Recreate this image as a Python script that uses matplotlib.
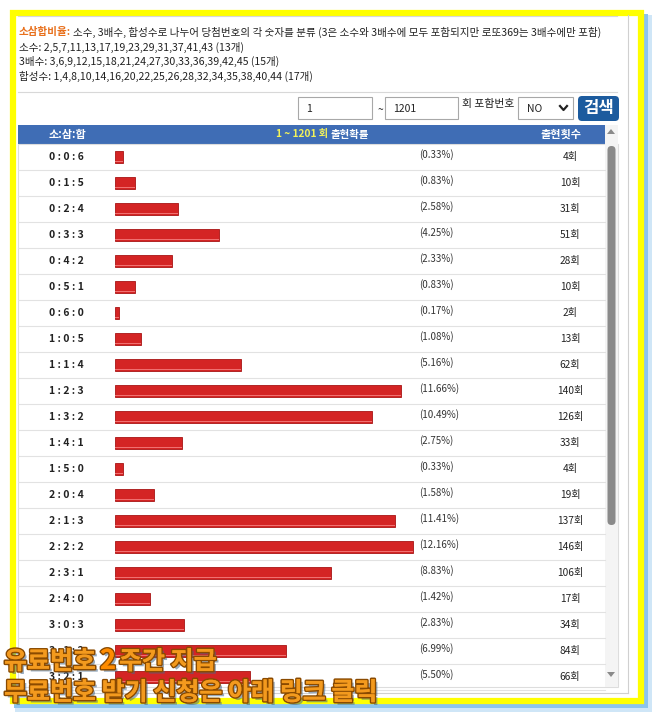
import matplotlib
matplotlib.use("Agg")
import matplotlib.pyplot as plt
import matplotlib.patches as mpatches
import matplotlib.transforms as mtransforms
import matplotlib.patheffects as pe

plt.rcParams['font.family'] = ['Noto Sans CJK KR', 'DejaVu Sans']

combos = ['0:0:6', '0:1:5', '0:2:4', '0:3:3', '0:4:2', '0:5:1', '0:6:0',
          '1:0:5', '1:1:4', '1:2:3', '1:3:2', '1:4:1', '1:5:0',
          '2:0:4', '2:1:3', '2:2:2', '2:3:1', '2:4:0',
          '3:0:3', '3:1:2', '3:2:1']
percents = [0.33, 0.83, 2.58, 4.25, 2.33, 0.83, 0.17,
            1.08, 5.16, 11.66, 10.49, 2.75, 0.33,
            1.58, 11.41, 12.16, 8.83, 1.42,
            2.83, 6.99, 5.50]
counts = [4, 10, 31, 51, 28, 10, 2,
          13, 62, 140, 126, 33, 4,
          19, 137, 146, 106, 17,
          34, 84, 66]

first_draw = 1
last_draw = 1201
info_lines = ['소수: 2,5,7,11,13,17,19,23,29,31,37,41,43 (13개)',
              '3배수: 3,6,9,12,15,18,21,24,27,30,33,36,39,42,45 (15개)',
              '합성수: 1,4,8,10,14,16,20,22,25,26,28,32,34,35,38,40,44 (17개)']

W, H = 655, 716
fig = plt.figure(figsize=(W / 100, H / 100), dpi=100)
fig.patch.set_facecolor('white')

# pixel-space background axes for page decoration
bg = fig.add_axes([0, 0, 1, 1])
bg.set_xlim(0, W)
bg.set_ylim(H, 0)
bg.axis('off')

# outer frame: blue shadow + yellow border
bg.add_patch(mpatches.Rectangle((15, 15), 637, 697, facecolor='#cfe6f7', edgecolor='none'))
bg.add_patch(mpatches.Rectangle((14, 14), 634, 694, facecolor='#8cc4ec', edgecolor='none'))
bg.add_patch(mpatches.Rectangle((13, 13), 628, 688, facecolor='white', edgecolor='#ffff00', lw=4.5))
bg.plot([627.5, 627.5], [15, 693], color='#d0d0d0', lw=0.8)
bg.plot([15, 627.5], [693, 693], color='#d0d0d0', lw=0.8)

# top info area
bg.plot([18, 617], [16, 16], color='#d8d8d8', lw=0.8)
bg.plot([18, 617], [92, 92], color='#d8d8d8', lw=0.8)
bg.text(19, 32, '소삼합비율:', color='#e8701c', fontsize=7.6, fontweight='bold', va='center')
bg.text(73, 32, '소수, 3배수, 합성수로 나누어 당첨번호의 각 숫자를 분류 (3은 소수와 3배수에 모두 포함되지만 로또369는 3배수에만 포함)',
        color='#222222', fontsize=7.6, va='center')
for k, line in enumerate(info_lines):
    bg.text(19, 47 + 14.7 * k, line, color='#222222', fontsize=7.6, va='center')

# search controls
bg.add_patch(mpatches.Rectangle((298, 97), 74, 22, facecolor='white', edgecolor='#a8a8a8', lw=0.8))
bg.text(306, 108.5, str(first_draw), fontsize=7.5, va='center', color='#222222')
bg.text(378, 110, '~', fontsize=7.5, va='center', color='#222222')
bg.add_patch(mpatches.Rectangle((385, 97), 73, 22, facecolor='white', edgecolor='#a8a8a8', lw=0.8))
bg.text(393, 108.5, str(last_draw), fontsize=7.5, va='center', color='#222222')
bg.text(462, 104, '회 포함번호', fontsize=7.8, va='center', color='#222222')
bg.add_patch(mpatches.Rectangle((518, 97), 55, 22, facecolor='white', edgecolor='#a8a8a8', lw=0.8))
bg.text(527, 109, 'NO', fontsize=7.5, va='center', color='#222222')
bg.plot([560, 563.5, 567], [106, 110, 106], color='#222222', lw=1.6)
bg.add_patch(mpatches.FancyBboxPatch((578, 96), 41, 25, boxstyle='round,pad=0,rounding_size=4',
                                     facecolor='#1c5b9e', edgecolor='none'))
bg.text(598.5, 108, '검색', fontsize=12, fontweight='bold', color='white', ha='center', va='center')

# table header
bg.add_patch(mpatches.Rectangle((18, 125), 587, 19, facecolor='#3f6db5', edgecolor='none'))
bg.text(67, 134.5, '소:삼:합', fontsize=8, fontweight='bold', color='white', ha='center', va='center')
bg.text(328, 134.5, f'{first_draw} ~ {last_draw} 회', fontsize=7.3, fontweight='bold', color='#f2f25a',
        ha='right', va='center')
bg.text(331, 134.5, '출현확률', fontsize=7.5, fontweight='bold', color='white', ha='left', va='center')
bg.text(561, 134.5, '출현횟수', fontsize=8, fontweight='bold', color='white', ha='center', va='center')

# table container and scrollbar
bg.add_patch(mpatches.Rectangle((18, 144), 600, 543, facecolor='none', edgecolor='#dddddd', lw=0.8))
bg.add_patch(mpatches.Rectangle((605, 125), 13, 562, facecolor='#f4f4f4', edgecolor='none'))
bg.add_patch(mpatches.FancyBboxPatch((607.5, 146), 8, 379, boxstyle='round,pad=0,rounding_size=4',
                                     facecolor='#8a8a8a', edgecolor='none'))
bg.add_patch(mpatches.Polygon([[607, 134], [615, 134], [611, 129]], facecolor='#8a8a8a', edgecolor='none'))
bg.add_patch(mpatches.Polygon([[607, 672], [615, 672], [611, 677]], facecolor='#8a8a8a', edgecolor='none'))

# bar area
top_px, bot_px, left_px, right_px = 144, 687, 115, 605
row_px = 26
ax = fig.add_axes([left_px / W, 1 - bot_px / H, (right_px - left_px) / W, (bot_px - top_px) / H])
ax.set_xlim(0, 20)
ax.set_ylim(-0.5 + (bot_px - top_px) / row_px, -0.5)
ax.axis('off')
ax.patch.set_alpha(0)

rows = list(range(len(combos)))
ax.barh(rows, percents, height=0.44, color='#d42424', edgecolor='#a81414', linewidth=0.6)
ax.barh([r + 0.17 for r in rows], percents, height=0.05, color='#f07070', edgecolor='none')

blend = mtransforms.blended_transform_factory(bg.transData, ax.transData)
for r, (c, p, n) in enumerate(zip(combos, percents, counts)):
    bg.plot([18, 605], [r + 0.5, r + 0.5], color='#e2e2e2', lw=0.8, transform=blend)
    bg.text(66, r, ' : '.join(c.split(':')), fontsize=7.5, fontweight='bold', color='#222222',
            ha='center', va='center', transform=blend)
    bg.text(419, r - 0.08, f'({p:.2f}%)', fontsize=7, color='#333333', ha='left', va='center', transform=blend)
    bg.text(570, r, f'{n}회', fontsize=7.3, color='#222222', ha='center', va='center', transform=blend)

# promo overlay
def promo_fx():
    return [pe.withSimplePatchShadow(offset=(2, -2), shadow_rgbFace='#446688', alpha=0.55),
            pe.withStroke(linewidth=2.2, foreground='#8a4a00'), pe.Normal()]

fig.text(4 / W, 1 - 662 / H, '유료번호', fontsize=18, fontweight='bold', color='#f39a1e',
         va='center', path_effects=promo_fx())
fig.text(100 / W, 1 - 661 / H, '2', fontsize=19.5, fontweight='bold', color='#ff8c00',
         va='center', path_effects=promo_fx())
fig.text(119 / W, 1 - 662 / H, '주간 지급', fontsize=18, fontweight='bold', color='#f39a1e',
         va='center', path_effects=promo_fx())
fig.text(4 / W, 1 - 693 / H, '무료번호 받기 신청은 아래 링크 클릭', fontsize=18, fontweight='bold', color='#f39a1e',
         va='center', path_effects=promo_fx())

fig.savefig('out.png', dpi=100)
